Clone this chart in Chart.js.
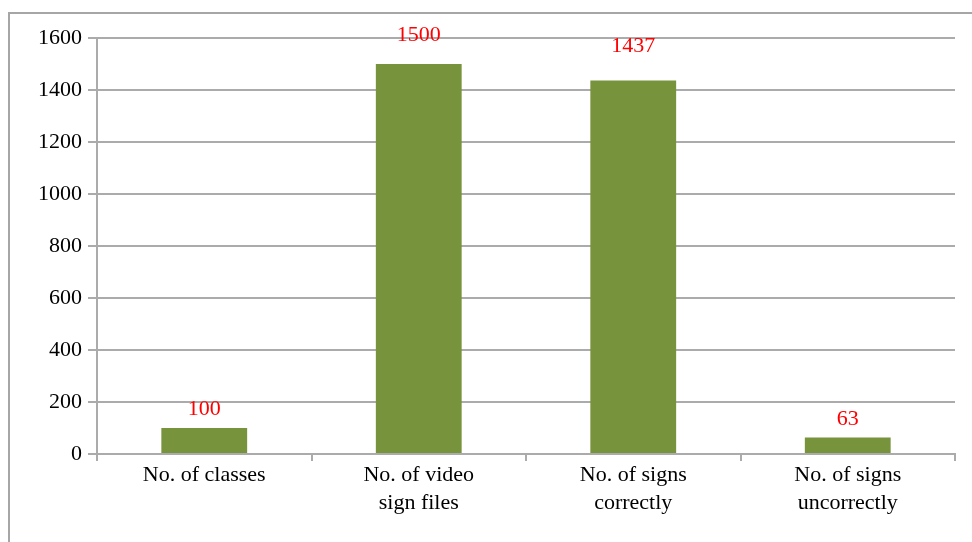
<!DOCTYPE html>
<html>
<head>
<meta charset="utf-8">
<script src="https://cdn.jsdelivr.net/npm/chart.js@4.4.0/dist/chart.umd.min.js"></script>
<style>
html,body{margin:0;padding:0;background:#fff;overflow:hidden;}
#wrap{position:relative;width:972px;height:542px;}
</style>
</head>
<body>
<div id="wrap"><canvas id="c" width="972" height="542"></canvas></div>
<script>
const categories = [
  ["No. of classes"],
  ["No. of video", "sign files"],
  ["No. of signs", "correctly"],
  ["No. of signs", "uncorrectly"]
];
const values = [100, 1500, 1437, 63];
const yTicks = [0, 200, 400, 600, 800, 1000, 1200, 1400, 1600];
const labelLift = [19, 29, 34, 18];

const FONT = "'Liberation Serif', 'Times New Roman', serif";

const framePlugin = {
  id: 'frame',
  beforeDraw(chart) {
    const ctx = chart.ctx;
    ctx.save();
    ctx.fillStyle = '#fff';
    ctx.fillRect(0, 0, chart.width, chart.height);
    ctx.strokeStyle = '#a6a6a6';
    ctx.lineWidth = 2;
    ctx.strokeRect(9, 13, 1000, 600);
    ctx.restore();
  }
};

const valueLabels = {
  id: 'valueLabels',
  afterDatasetsDraw(chart) {
    const ctx = chart.ctx;
    const meta = chart.getDatasetMeta(0);
    ctx.save();
    ctx.fillStyle = '#ff0000';
    ctx.font = '22px ' + FONT;
    ctx.textAlign = 'center';
    ctx.textBaseline = 'middle';
    meta.data.forEach((bar, i) => {
      ctx.fillText(String(values[i]), bar.x, bar.y - labelLift[i]);
    });
    ctx.restore();
  }
};

new Chart(document.getElementById('c'), {
  type: 'bar',
  data: {
    labels: categories,
    datasets: [{
      data: values,
      backgroundColor: '#77933c',
      borderWidth: 0,
      categoryPercentage: 1.0,
      barPercentage: 0.4
    }]
  },
  options: {
    responsive: false,
    animation: false,
    devicePixelRatio: 1,
    layout: { padding: { left: 0, right: 17, top: 38, bottom: 0 } },
    plugins: { legend: { display: false }, tooltip: { enabled: false } },
    scales: {
      x: {
        grid: {
          display: true,
          drawOnChartArea: false,
          drawTicks: true,
          tickLength: 7,
          color: '#ababab',
          lineWidth: 2,
          offset: true
        },
        border: { display: true, color: '#ababab', width: 2 },
        ticks: {
          color: '#000',
          font: { family: FONT, size: 22, lineHeight: 1.27 },
          padding: 0,
          maxRotation: 0,
          autoSkip: false
        },
        afterFit(scale) { scale.height = 88; }
      },
      y: {
        min: 0,
        max: 1600,
        afterBuildTicks(scale) { scale.ticks = yTicks.map(v => ({ value: v })); },
        grid: {
          color: '#ababab',
          lineWidth: 2,
          drawTicks: true,
          tickLength: 9
        },
        border: { display: true, color: '#ababab', width: 2 },
        ticks: {
          color: '#000',
          font: { family: FONT, size: 22 },
          padding: 6,
          callback: (v) => String(v)
        },
        afterFit(scale) { scale.width = 97; }
      }
    }
  },
  plugins: [framePlugin, valueLabels]
});
</script>
</body>
</html>
